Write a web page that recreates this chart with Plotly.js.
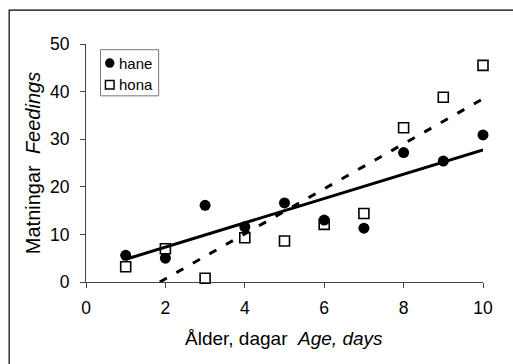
<!DOCTYPE html>
<html>
<head>
<meta charset="utf-8">
<script src="https://cdn.plot.ly/plotly-3.0.1.min.js"></script>
<style>
html,body{margin:0;padding:0;background:#fff;}
#chart{width:513px;height:364px;}
</style>
</head>
<body>
<div id="chart"></div>
<script>
const ages = [1, 2, 3, 4, 5, 6, 7, 8, 9, 10];
const hane = [5.6, 5.0, 16.1, 11.6, 16.6, 13.0, 11.3, 27.2, 25.4, 30.9];
const hona = [3.2, 7.0, 0.8, 9.3, 8.6, 12.1, 14.4, 32.4, 38.8, 45.5];
const xTicks = [0, 2, 4, 6, 8, 10];
const yTicks = [0, 10, 20, 30, 40, 50];
const seriesNames = ['hane', 'hona'];
const xTitle = 'Ålder, dagar\u00A0\u00A0<i>Age, days</i>';
const yTitle = 'Matningar\u00A0\u00A0<i>Feedings</i>';

function fit(xs, ys) {
  const n = xs.length;
  const mx = xs.reduce((a, b) => a + b, 0) / n;
  const my = ys.reduce((a, b) => a + b, 0) / n;
  let sxy = 0, sxx = 0;
  for (let i = 0; i < n; i++) { sxy += (xs[i] - mx) * (ys[i] - my); sxx += (xs[i] - mx) ** 2; }
  const m = sxy / sxx;
  return { m: m, b: my - m * mx };
}
const fHane = fit(ages, hane);
const fHona = fit(ages, hona);
const xMin = ages[0], xMax = ages[ages.length - 1];
const honaStart = Math.max(xMin, -fHona.b / fHona.m);

const traces = [
  { x: [xMin, xMax], y: [fHane.b + fHane.m * xMin, fHane.b + fHane.m * xMax], mode: 'lines',
    line: { color: '#000', width: 3 }, showlegend: false, hoverinfo: 'skip' },
  { x: [honaStart, xMax], y: [fHona.b + fHona.m * honaStart, fHona.b + fHona.m * xMax], mode: 'lines',
    line: { color: '#000', width: 3, dash: '8px,11px' }, showlegend: false, hoverinfo: 'skip' },
  { x: ages, y: hane, name: seriesNames[0], mode: 'markers', cliponaxis: false,
    marker: { symbol: 'circle', size: 11, color: '#000' } },
  { x: ages, y: hona, name: seriesNames[1], mode: 'markers', cliponaxis: false,
    marker: { symbol: 'square-open', size: 10, color: '#000', line: { width: 1.6, color: '#000' } } }
];

// plot area: x 85.5..483.3, y 44.3..281.7
const L = 85.5, R = 513 - 483.3, T = 44.3, B = 364 - 281.7;
const W = 513 - L - R, H = 364 - T - B;
const px = v => (v - L) / W;
const py = v => (364 - B - v) / H;

const layout = {
  width: 513, height: 364,
  margin: { l: L, r: R, t: T, b: B, pad: 0 },
  paper_bgcolor: '#fff', plot_bgcolor: '#fff',
  font: { family: 'Liberation Sans, Arial, sans-serif', color: '#000', size: 17.5 },
  showlegend: false,
  xaxis: {
    range: [0, 10], tickvals: xTicks, ticktext: xTicks.map(String),
    showgrid: false, zeroline: false, showline: true, linecolor: '#444', linewidth: 1,
    ticks: 'outside', ticklen: 5, tickcolor: '#444', tickfont: { size: 17.5 },
    ticklabelstandoff: 5,
    automargin: false, fixedrange: true
  },
  yaxis: {
    range: [0, 50], tickvals: yTicks, ticktext: yTicks.map(String),
    showgrid: false, zeroline: false, showline: true, linecolor: '#444', linewidth: 1,
    ticks: 'outside', ticklen: 5, tickcolor: '#444', tickfont: { size: 17.5 },
    ticklabelstandoff: 7,
    title: { text: yTitle, font: { size: 20 }, standoff: 4 },
    automargin: false, fixedrange: true
  },
  shapes: [
    { type: 'rect', xref: 'paper', yref: 'paper', x0: px(8.5), x1: px(540), y0: py(390), y1: py(10.5),
      line: { color: '#000', width: 1.2 }, fillcolor: 'rgba(0,0,0,0)', layer: 'below' },
    { type: 'rect', xref: 'paper', yref: 'paper', x0: px(100), x1: px(158.3), y0: py(96), y1: py(50),
      line: { color: '#777', width: 1 }, fillcolor: '#fff' },
    { type: 'circle', xref: 'paper', yref: 'paper', x0: px(104.6), x1: px(114), y0: py(68), y1: py(58.6),
      line: { color: '#000', width: 0 }, fillcolor: '#000' },
    { type: 'rect', xref: 'paper', yref: 'paper', x0: px(105), x1: px(113.6), y0: py(89.3), y1: py(80.7),
      line: { color: '#000', width: 1.5 }, fillcolor: '#fff' }
  ],
  annotations: [
    { xref: 'paper', yref: 'paper', x: px(116.5), y: py(63.3), xanchor: 'left', yanchor: 'middle',
      text: seriesNames[0], showarrow: false, font: { size: 15 } },
    { xref: 'paper', yref: 'paper', x: px(116.5), y: py(85), xanchor: 'left', yanchor: 'middle',
      text: seriesNames[1], showarrow: false, font: { size: 15 } },
    { xref: 'paper', yref: 'paper', x: px(283.5), y: py(338), xanchor: 'center', yanchor: 'middle',
      text: xTitle, showarrow: false, font: { size: 19 } }
  ]
};

Plotly.newPlot('chart', traces, layout, { displayModeBar: false, staticPlot: true });
</script>
</body>
</html>
